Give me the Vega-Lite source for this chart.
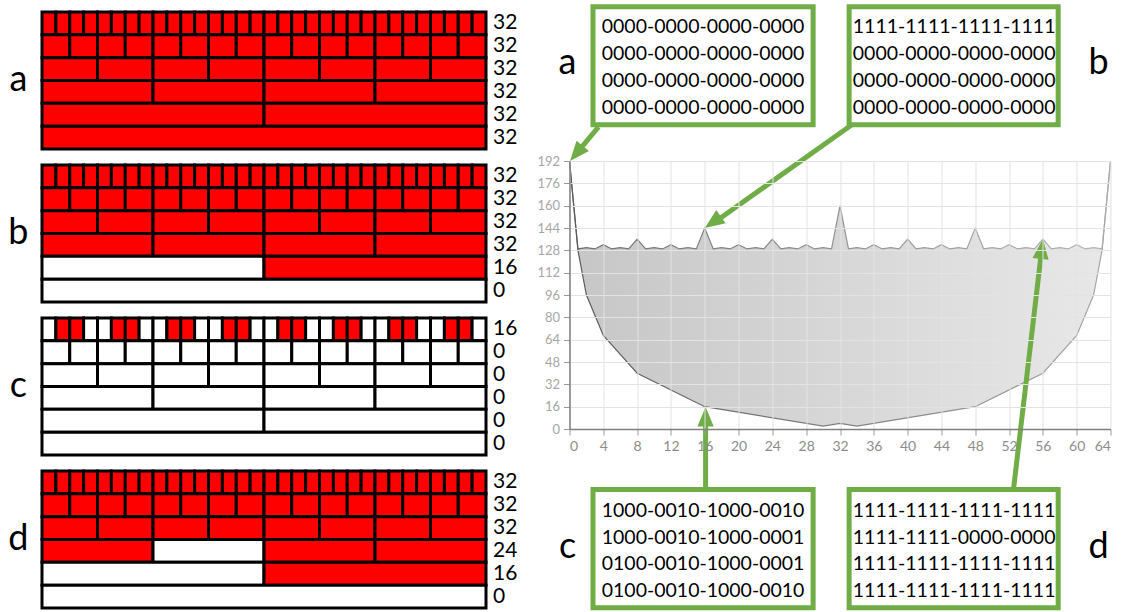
{
"$schema":"https://vega.github.io/schema/vega-lite/v6.json",
"background":"white",
"padding":{"left":8,"top":4,"right":0,"bottom":0},
"config":{"font":"Lato","view":{"stroke":null}},
"datasets":{
"cells":[
{"p":"a","r":0,"s":0,"e":1,"f":"R"},{"p":"a","r":0,"s":1,"e":2,"f":"R"},{"p":"a","r":0,"s":2,"e":3,"f":"R"},{"p":"a","r":0,"s":3,"e":4,"f":"R"},{"p":"a","r":0,"s":4,"e":5,"f":"R"},{"p":"a","r":0,"s":5,"e":6,"f":"R"},{"p":"a","r":0,"s":6,"e":7,"f":"R"},{"p":"a","r":0,"s":7,"e":8,"f":"R"},{"p":"a","r":0,"s":8,"e":9,"f":"R"},{"p":"a","r":0,"s":9,"e":10,"f":"R"},{"p":"a","r":0,"s":10,"e":11,"f":"R"},{"p":"a","r":0,"s":11,"e":12,"f":"R"},{"p":"a","r":0,"s":12,"e":13,"f":"R"},{"p":"a","r":0,"s":13,"e":14,"f":"R"},{"p":"a","r":0,"s":14,"e":15,"f":"R"},{"p":"a","r":0,"s":15,"e":16,"f":"R"},{"p":"a","r":0,"s":16,"e":17,"f":"R"},{"p":"a","r":0,"s":17,"e":18,"f":"R"},{"p":"a","r":0,"s":18,"e":19,"f":"R"},{"p":"a","r":0,"s":19,"e":20,"f":"R"},{"p":"a","r":0,"s":20,"e":21,"f":"R"},{"p":"a","r":0,"s":21,"e":22,"f":"R"},{"p":"a","r":0,"s":22,"e":23,"f":"R"},{"p":"a","r":0,"s":23,"e":24,"f":"R"},{"p":"a","r":0,"s":24,"e":25,"f":"R"},{"p":"a","r":0,"s":25,"e":26,"f":"R"},{"p":"a","r":0,"s":26,"e":27,"f":"R"},{"p":"a","r":0,"s":27,"e":28,"f":"R"},{"p":"a","r":0,"s":28,"e":29,"f":"R"},{"p":"a","r":0,"s":29,"e":30,"f":"R"},{"p":"a","r":0,"s":30,"e":31,"f":"R"},{"p":"a","r":0,"s":31,"e":32,"f":"R"},
{"p":"a","r":1,"s":0,"e":2,"f":"R"},{"p":"a","r":1,"s":2,"e":4,"f":"R"},{"p":"a","r":1,"s":4,"e":6,"f":"R"},{"p":"a","r":1,"s":6,"e":8,"f":"R"},{"p":"a","r":1,"s":8,"e":10,"f":"R"},{"p":"a","r":1,"s":10,"e":12,"f":"R"},{"p":"a","r":1,"s":12,"e":14,"f":"R"},{"p":"a","r":1,"s":14,"e":16,"f":"R"},{"p":"a","r":1,"s":16,"e":18,"f":"R"},{"p":"a","r":1,"s":18,"e":20,"f":"R"},{"p":"a","r":1,"s":20,"e":22,"f":"R"},{"p":"a","r":1,"s":22,"e":24,"f":"R"},{"p":"a","r":1,"s":24,"e":26,"f":"R"},{"p":"a","r":1,"s":26,"e":28,"f":"R"},{"p":"a","r":1,"s":28,"e":30,"f":"R"},{"p":"a","r":1,"s":30,"e":32,"f":"R"},
{"p":"a","r":2,"s":0,"e":4,"f":"R"},{"p":"a","r":2,"s":4,"e":8,"f":"R"},{"p":"a","r":2,"s":8,"e":12,"f":"R"},{"p":"a","r":2,"s":12,"e":16,"f":"R"},{"p":"a","r":2,"s":16,"e":20,"f":"R"},{"p":"a","r":2,"s":20,"e":24,"f":"R"},{"p":"a","r":2,"s":24,"e":28,"f":"R"},{"p":"a","r":2,"s":28,"e":32,"f":"R"},
{"p":"a","r":3,"s":0,"e":8,"f":"R"},{"p":"a","r":3,"s":8,"e":16,"f":"R"},{"p":"a","r":3,"s":16,"e":24,"f":"R"},{"p":"a","r":3,"s":24,"e":32,"f":"R"},
{"p":"a","r":4,"s":0,"e":16,"f":"R"},{"p":"a","r":4,"s":16,"e":32,"f":"R"},
{"p":"a","r":5,"s":0,"e":32,"f":"R"},
{"p":"b","r":0,"s":0,"e":1,"f":"R"},{"p":"b","r":0,"s":1,"e":2,"f":"R"},{"p":"b","r":0,"s":2,"e":3,"f":"R"},{"p":"b","r":0,"s":3,"e":4,"f":"R"},{"p":"b","r":0,"s":4,"e":5,"f":"R"},{"p":"b","r":0,"s":5,"e":6,"f":"R"},{"p":"b","r":0,"s":6,"e":7,"f":"R"},{"p":"b","r":0,"s":7,"e":8,"f":"R"},{"p":"b","r":0,"s":8,"e":9,"f":"R"},{"p":"b","r":0,"s":9,"e":10,"f":"R"},{"p":"b","r":0,"s":10,"e":11,"f":"R"},{"p":"b","r":0,"s":11,"e":12,"f":"R"},{"p":"b","r":0,"s":12,"e":13,"f":"R"},{"p":"b","r":0,"s":13,"e":14,"f":"R"},{"p":"b","r":0,"s":14,"e":15,"f":"R"},{"p":"b","r":0,"s":15,"e":16,"f":"R"},{"p":"b","r":0,"s":16,"e":17,"f":"R"},{"p":"b","r":0,"s":17,"e":18,"f":"R"},{"p":"b","r":0,"s":18,"e":19,"f":"R"},{"p":"b","r":0,"s":19,"e":20,"f":"R"},{"p":"b","r":0,"s":20,"e":21,"f":"R"},{"p":"b","r":0,"s":21,"e":22,"f":"R"},{"p":"b","r":0,"s":22,"e":23,"f":"R"},{"p":"b","r":0,"s":23,"e":24,"f":"R"},{"p":"b","r":0,"s":24,"e":25,"f":"R"},{"p":"b","r":0,"s":25,"e":26,"f":"R"},{"p":"b","r":0,"s":26,"e":27,"f":"R"},{"p":"b","r":0,"s":27,"e":28,"f":"R"},{"p":"b","r":0,"s":28,"e":29,"f":"R"},{"p":"b","r":0,"s":29,"e":30,"f":"R"},{"p":"b","r":0,"s":30,"e":31,"f":"R"},{"p":"b","r":0,"s":31,"e":32,"f":"R"},
{"p":"b","r":1,"s":0,"e":2,"f":"R"},{"p":"b","r":1,"s":2,"e":4,"f":"R"},{"p":"b","r":1,"s":4,"e":6,"f":"R"},{"p":"b","r":1,"s":6,"e":8,"f":"R"},{"p":"b","r":1,"s":8,"e":10,"f":"R"},{"p":"b","r":1,"s":10,"e":12,"f":"R"},{"p":"b","r":1,"s":12,"e":14,"f":"R"},{"p":"b","r":1,"s":14,"e":16,"f":"R"},{"p":"b","r":1,"s":16,"e":18,"f":"R"},{"p":"b","r":1,"s":18,"e":20,"f":"R"},{"p":"b","r":1,"s":20,"e":22,"f":"R"},{"p":"b","r":1,"s":22,"e":24,"f":"R"},{"p":"b","r":1,"s":24,"e":26,"f":"R"},{"p":"b","r":1,"s":26,"e":28,"f":"R"},{"p":"b","r":1,"s":28,"e":30,"f":"R"},{"p":"b","r":1,"s":30,"e":32,"f":"R"},
{"p":"b","r":2,"s":0,"e":4,"f":"R"},{"p":"b","r":2,"s":4,"e":8,"f":"R"},{"p":"b","r":2,"s":8,"e":12,"f":"R"},{"p":"b","r":2,"s":12,"e":16,"f":"R"},{"p":"b","r":2,"s":16,"e":20,"f":"R"},{"p":"b","r":2,"s":20,"e":24,"f":"R"},{"p":"b","r":2,"s":24,"e":28,"f":"R"},{"p":"b","r":2,"s":28,"e":32,"f":"R"},
{"p":"b","r":3,"s":0,"e":8,"f":"R"},{"p":"b","r":3,"s":8,"e":16,"f":"R"},{"p":"b","r":3,"s":16,"e":24,"f":"R"},{"p":"b","r":3,"s":24,"e":32,"f":"R"},
{"p":"b","r":4,"s":0,"e":16,"f":"W"},{"p":"b","r":4,"s":16,"e":32,"f":"R"},
{"p":"b","r":5,"s":0,"e":32,"f":"W"},
{"p":"c","r":0,"s":0,"e":1,"f":"W"},{"p":"c","r":0,"s":1,"e":2,"f":"R"},{"p":"c","r":0,"s":2,"e":3,"f":"R"},{"p":"c","r":0,"s":3,"e":4,"f":"W"},{"p":"c","r":0,"s":4,"e":5,"f":"W"},{"p":"c","r":0,"s":5,"e":6,"f":"R"},{"p":"c","r":0,"s":6,"e":7,"f":"R"},{"p":"c","r":0,"s":7,"e":8,"f":"W"},{"p":"c","r":0,"s":8,"e":9,"f":"W"},{"p":"c","r":0,"s":9,"e":10,"f":"R"},{"p":"c","r":0,"s":10,"e":11,"f":"R"},{"p":"c","r":0,"s":11,"e":12,"f":"W"},{"p":"c","r":0,"s":12,"e":13,"f":"W"},{"p":"c","r":0,"s":13,"e":14,"f":"R"},{"p":"c","r":0,"s":14,"e":15,"f":"R"},{"p":"c","r":0,"s":15,"e":16,"f":"W"},{"p":"c","r":0,"s":16,"e":17,"f":"W"},{"p":"c","r":0,"s":17,"e":18,"f":"R"},{"p":"c","r":0,"s":18,"e":19,"f":"R"},{"p":"c","r":0,"s":19,"e":20,"f":"W"},{"p":"c","r":0,"s":20,"e":21,"f":"W"},{"p":"c","r":0,"s":21,"e":22,"f":"R"},{"p":"c","r":0,"s":22,"e":23,"f":"R"},{"p":"c","r":0,"s":23,"e":24,"f":"W"},{"p":"c","r":0,"s":24,"e":25,"f":"W"},{"p":"c","r":0,"s":25,"e":26,"f":"R"},{"p":"c","r":0,"s":26,"e":27,"f":"R"},{"p":"c","r":0,"s":27,"e":28,"f":"W"},{"p":"c","r":0,"s":28,"e":29,"f":"W"},{"p":"c","r":0,"s":29,"e":30,"f":"R"},{"p":"c","r":0,"s":30,"e":31,"f":"R"},{"p":"c","r":0,"s":31,"e":32,"f":"W"},
{"p":"c","r":1,"s":0,"e":2,"f":"W"},{"p":"c","r":1,"s":2,"e":4,"f":"W"},{"p":"c","r":1,"s":4,"e":6,"f":"W"},{"p":"c","r":1,"s":6,"e":8,"f":"W"},{"p":"c","r":1,"s":8,"e":10,"f":"W"},{"p":"c","r":1,"s":10,"e":12,"f":"W"},{"p":"c","r":1,"s":12,"e":14,"f":"W"},{"p":"c","r":1,"s":14,"e":16,"f":"W"},{"p":"c","r":1,"s":16,"e":18,"f":"W"},{"p":"c","r":1,"s":18,"e":20,"f":"W"},{"p":"c","r":1,"s":20,"e":22,"f":"W"},{"p":"c","r":1,"s":22,"e":24,"f":"W"},{"p":"c","r":1,"s":24,"e":26,"f":"W"},{"p":"c","r":1,"s":26,"e":28,"f":"W"},{"p":"c","r":1,"s":28,"e":30,"f":"W"},{"p":"c","r":1,"s":30,"e":32,"f":"W"},
{"p":"c","r":2,"s":0,"e":4,"f":"W"},{"p":"c","r":2,"s":4,"e":8,"f":"W"},{"p":"c","r":2,"s":8,"e":12,"f":"W"},{"p":"c","r":2,"s":12,"e":16,"f":"W"},{"p":"c","r":2,"s":16,"e":20,"f":"W"},{"p":"c","r":2,"s":20,"e":24,"f":"W"},{"p":"c","r":2,"s":24,"e":28,"f":"W"},{"p":"c","r":2,"s":28,"e":32,"f":"W"},
{"p":"c","r":3,"s":0,"e":8,"f":"W"},{"p":"c","r":3,"s":8,"e":16,"f":"W"},{"p":"c","r":3,"s":16,"e":24,"f":"W"},{"p":"c","r":3,"s":24,"e":32,"f":"W"},
{"p":"c","r":4,"s":0,"e":16,"f":"W"},{"p":"c","r":4,"s":16,"e":32,"f":"W"},
{"p":"c","r":5,"s":0,"e":32,"f":"W"},
{"p":"d","r":0,"s":0,"e":1,"f":"R"},{"p":"d","r":0,"s":1,"e":2,"f":"R"},{"p":"d","r":0,"s":2,"e":3,"f":"R"},{"p":"d","r":0,"s":3,"e":4,"f":"R"},{"p":"d","r":0,"s":4,"e":5,"f":"R"},{"p":"d","r":0,"s":5,"e":6,"f":"R"},{"p":"d","r":0,"s":6,"e":7,"f":"R"},{"p":"d","r":0,"s":7,"e":8,"f":"R"},{"p":"d","r":0,"s":8,"e":9,"f":"R"},{"p":"d","r":0,"s":9,"e":10,"f":"R"},{"p":"d","r":0,"s":10,"e":11,"f":"R"},{"p":"d","r":0,"s":11,"e":12,"f":"R"},{"p":"d","r":0,"s":12,"e":13,"f":"R"},{"p":"d","r":0,"s":13,"e":14,"f":"R"},{"p":"d","r":0,"s":14,"e":15,"f":"R"},{"p":"d","r":0,"s":15,"e":16,"f":"R"},{"p":"d","r":0,"s":16,"e":17,"f":"R"},{"p":"d","r":0,"s":17,"e":18,"f":"R"},{"p":"d","r":0,"s":18,"e":19,"f":"R"},{"p":"d","r":0,"s":19,"e":20,"f":"R"},{"p":"d","r":0,"s":20,"e":21,"f":"R"},{"p":"d","r":0,"s":21,"e":22,"f":"R"},{"p":"d","r":0,"s":22,"e":23,"f":"R"},{"p":"d","r":0,"s":23,"e":24,"f":"R"},{"p":"d","r":0,"s":24,"e":25,"f":"R"},{"p":"d","r":0,"s":25,"e":26,"f":"R"},{"p":"d","r":0,"s":26,"e":27,"f":"R"},{"p":"d","r":0,"s":27,"e":28,"f":"R"},{"p":"d","r":0,"s":28,"e":29,"f":"R"},{"p":"d","r":0,"s":29,"e":30,"f":"R"},{"p":"d","r":0,"s":30,"e":31,"f":"R"},{"p":"d","r":0,"s":31,"e":32,"f":"R"},
{"p":"d","r":1,"s":0,"e":2,"f":"R"},{"p":"d","r":1,"s":2,"e":4,"f":"R"},{"p":"d","r":1,"s":4,"e":6,"f":"R"},{"p":"d","r":1,"s":6,"e":8,"f":"R"},{"p":"d","r":1,"s":8,"e":10,"f":"R"},{"p":"d","r":1,"s":10,"e":12,"f":"R"},{"p":"d","r":1,"s":12,"e":14,"f":"R"},{"p":"d","r":1,"s":14,"e":16,"f":"R"},{"p":"d","r":1,"s":16,"e":18,"f":"R"},{"p":"d","r":1,"s":18,"e":20,"f":"R"},{"p":"d","r":1,"s":20,"e":22,"f":"R"},{"p":"d","r":1,"s":22,"e":24,"f":"R"},{"p":"d","r":1,"s":24,"e":26,"f":"R"},{"p":"d","r":1,"s":26,"e":28,"f":"R"},{"p":"d","r":1,"s":28,"e":30,"f":"R"},{"p":"d","r":1,"s":30,"e":32,"f":"R"},
{"p":"d","r":2,"s":0,"e":4,"f":"R"},{"p":"d","r":2,"s":4,"e":8,"f":"R"},{"p":"d","r":2,"s":8,"e":12,"f":"R"},{"p":"d","r":2,"s":12,"e":16,"f":"R"},{"p":"d","r":2,"s":16,"e":20,"f":"R"},{"p":"d","r":2,"s":20,"e":24,"f":"R"},{"p":"d","r":2,"s":24,"e":28,"f":"R"},{"p":"d","r":2,"s":28,"e":32,"f":"R"},
{"p":"d","r":3,"s":0,"e":8,"f":"R"},{"p":"d","r":3,"s":8,"e":16,"f":"W"},{"p":"d","r":3,"s":16,"e":24,"f":"R"},{"p":"d","r":3,"s":24,"e":32,"f":"R"},
{"p":"d","r":4,"s":0,"e":16,"f":"W"},{"p":"d","r":4,"s":16,"e":32,"f":"R"},
{"p":"d","r":5,"s":0,"e":32,"f":"W"},
{"p":"a","r":0,"n":"32"},{"p":"a","r":1,"n":"32"},{"p":"a","r":2,"n":"32"},{"p":"a","r":3,"n":"32"},{"p":"a","r":4,"n":"32"},{"p":"a","r":5,"n":"32"},
{"p":"b","r":0,"n":"32"},{"p":"b","r":1,"n":"32"},{"p":"b","r":2,"n":"32"},{"p":"b","r":3,"n":"32"},{"p":"b","r":4,"n":"16"},{"p":"b","r":5,"n":"0"},
{"p":"c","r":0,"n":"16"},{"p":"c","r":1,"n":"0"},{"p":"c","r":2,"n":"0"},{"p":"c","r":3,"n":"0"},{"p":"c","r":4,"n":"0"},{"p":"c","r":5,"n":"0"},
{"p":"d","r":0,"n":"32"},{"p":"d","r":1,"n":"32"},{"p":"d","r":2,"n":"32"},{"p":"d","r":3,"n":"24"},{"p":"d","r":4,"n":"16"},{"p":"d","r":5,"n":"0"},
{"p":"a","r":2,"L":"a"},{"p":"b","r":2,"L":"b"},{"p":"c","r":2,"L":"c"},{"p":"d","r":2,"L":"d"}
],
"curve":[
{"x":0,"hi":192,"lo":192},{"x":1,"hi":129,"lo":128},{"x":2,"hi":130,"lo":96},{"x":3,"hi":129},{"x":4,"hi":132,"lo":67},{"x":5,"hi":129},{"x":6,"hi":130},{"x":7,"hi":129},{"x":8,"hi":136,"lo":40},{"x":9,"hi":129},{"x":10,"hi":130},{"x":11,"hi":129},{"x":12,"hi":132},{"x":13,"hi":129},{"x":14,"hi":130},{"x":15,"hi":129},
{"x":16,"hi":144,"lo":16},{"x":17,"hi":129},{"x":18,"hi":130},{"x":19,"hi":129},{"x":20,"hi":132},{"x":21,"hi":129},{"x":22,"hi":130},{"x":23,"hi":129},{"x":24,"hi":136},{"x":25,"hi":129},{"x":26,"hi":130},{"x":27,"hi":129},{"x":28,"hi":132},{"x":29,"hi":129},{"x":30,"hi":130,"lo":2},{"x":31,"hi":129},
{"x":32,"hi":160,"lo":4},{"x":33,"hi":129},{"x":34,"hi":130,"lo":2},{"x":35,"hi":129},{"x":36,"hi":132},{"x":37,"hi":129},{"x":38,"hi":130},{"x":39,"hi":129},{"x":40,"hi":136},{"x":41,"hi":129},{"x":42,"hi":130},{"x":43,"hi":129},{"x":44,"hi":132},{"x":45,"hi":129},{"x":46,"hi":130},{"x":47,"hi":129},
{"x":48,"hi":144,"lo":16},{"x":49,"hi":129},{"x":50,"hi":130},{"x":51,"hi":129},{"x":52,"hi":132},{"x":53,"hi":129},{"x":54,"hi":130},{"x":55,"hi":129},{"x":56,"hi":136,"lo":40},{"x":57,"hi":129},{"x":58,"hi":130},{"x":59,"hi":129},{"x":60,"hi":132,"lo":67},{"x":61,"hi":129},{"x":62,"hi":130,"lo":96},{"x":63,"hi":129,"lo":128},
{"x":64,"hi":192,"lo":192}
]
},
"spacing":18.5,
"hconcat":[
{
"data":{"name":"cells"},
"facet":{"row":{"field":"p","type":"nominal","header":{"title":null,"labels":false}}},
"spacing":{"row":12},
"spec":{
"width":444,"height":137,
"encoding":{
"x":{"type":"quantitative","scale":{"domain":[0,32],"nice":false,"zero":false},"axis":null},
"y":{"field":"r","type":"ordinal","scale":{"paddingInner":0,"paddingOuter":0},"axis":null}
},
"layer":[
{"transform":[{"filter":"isValid(datum.s)"}],
"mark":{"type":"rect","stroke":"black","strokeWidth":3},
"encoding":{
"x":{"field":"s","type":"quantitative"},
"x2":{"field":"e"},
"color":{"field":"f","type":"nominal","scale":{"domain":["W","R"],"range":["#ffffff","#ff0000"]},"legend":null}}},
{"transform":[{"filter":"isValid(datum.n)"}],
"mark":{"type":"text","align":"left","baseline":"middle","dx":7,"fontSize":21,"color":"black"},
"encoding":{"x":{"datum":32},"text":{"field":"n"}}},
{"transform":[{"filter":"isValid(datum.L)"}],
"mark":{"type":"text","align":"center","baseline":"middle","dy":11.4,"fontSize":36,"color":"black"},
"encoding":{"x":{"datum":-1.7},"text":{"field":"L"}}}
]}
},
{
"vconcat":[
{
"width":541,"height":148.5,
"encoding":{
"x":{"type":"quantitative","scale":{"domain":[0,64],"nice":false,"zero":false},"axis":null},
"y":{"type":"quantitative","scale":{"domain":[192,298.39],"nice":false,"zero":false},"axis":null}
},
"layer":[
{"data":{"values":[{"L":"a","t":["0000-0000-0000-0000","0000-0000-0000-0000","0000-0000-0000-0000","0000-0000-0000-0000"]}]},
"layer":[
{"mark":{"type":"rect","fill":"white","stroke":"#70ad47","strokeWidth":5},"encoding":{"x":{"datum":2.78},"x2":{"datum":28.82},"y":{"datum":302.2},"y2":{"datum":217.6}}},
{"mark":{"type":"text","align":"center","baseline":"middle","fontSize":19.5,"lineHeight":26.7,"color":"black"},"encoding":{"x":{"datum":15.8},"y":{"datum":287.3},"text":{"field":"t"}}},
{"mark":{"type":"text","align":"center","baseline":"middle","fontSize":36,"color":"black"},"encoding":{"x":{"datum":-0.24},"y":{"datum":261.6},"text":{"field":"L"}}}
]},
{"data":{"values":[{"L":"b","t":["1111-1111-1111-1111","0000-0000-0000-0000","0000-0000-0000-0000","0000-0000-0000-0000"]}]},
"layer":[
{"mark":{"type":"rect","fill":"white","stroke":"#70ad47","strokeWidth":5},"encoding":{"x":{"datum":33.08},"x2":{"datum":57.81},"y":{"datum":302.2},"y2":{"datum":217.6}}},
{"mark":{"type":"text","align":"center","baseline":"middle","fontSize":19.5,"lineHeight":26.7,"color":"black"},"encoding":{"x":{"datum":45.5},"y":{"datum":287.3},"text":{"field":"t"}}},
{"mark":{"type":"text","align":"center","baseline":"middle","fontSize":36,"color":"black"},"encoding":{"x":{"datum":62.58},"y":{"datum":261.6},"text":{"field":"L"}}}
]}
]
},
{
"width":541,"height":268,
"encoding":{
"x":{"type":"quantitative","scale":{"domain":[0,64],"nice":false,"zero":false},"axis":{"values":[0,4,8,12,16,20,24,28,32,36,40,44,48,52,56,60,64],"labelOverlap":false,"title":null,"grid":true,"gridColor":"#e3e3e3","domainColor":"#808080","domainWidth":1.5,"tickColor":"#9a9a9a","tickSize":6,"labelColor":"#8c8c8c","labelFontSize":14,"labelPadding":4,"zindex":1}},
"y":{"type":"quantitative","scale":{"domain":[0,192],"nice":false,"zero":false},"axis":{"values":[0,16,32,48,64,80,96,112,128,144,160,176,192],"labelOverlap":false,"title":null,"grid":true,"gridColor":"#e3e3e3","domainColor":"#808080","domainWidth":1.5,"tickColor":"#9a9a9a","tickSize":6,"labelColor":"#a6a6a6","labelFontSize":13,"labelPadding":4,"zindex":1}}
},
"layer":[
{"data":{"name":"curve"},
"mark":{"type":"area","opacity":1,"color":{"gradient":"linear","x1":0,"y1":0,"x2":1,"y2":0,"stops":[{"offset":0,"color":"#c6c6c6"},{"offset":1,"color":"#e8e8e8"}]}},
"encoding":{"x":{"field":"x","type":"quantitative"},"y":{"field":"hi","type":"quantitative"}}},
{"data":{"name":"curve"},"transform":[{"filter":"isValid(datum.lo)"}],
"mark":{"type":"area","color":"white","opacity":1},
"encoding":{"x":{"field":"x","type":"quantitative"},"y":{"field":"lo","type":"quantitative"}}},
{"data":{"name":"curve"},
"mark":{"type":"line","strokeWidth":1.2,"stroke":{"gradient":"linear","x1":0,"y1":0,"x2":1,"y2":0,"stops":[{"offset":0,"color":"#6e6e6e"},{"offset":1,"color":"#b4b4b4"}]}},
"encoding":{"x":{"field":"x","type":"quantitative"},"y":{"field":"hi","type":"quantitative"}}},
{"data":{"name":"curve"},"transform":[{"filter":"isValid(datum.lo)"}],
"mark":{"type":"line","strokeWidth":1.2,"stroke":{"gradient":"linear","x1":0,"y1":0,"x2":1,"y2":0,"stops":[{"offset":0,"color":"#5a5a5a"},{"offset":1,"color":"#a8a8a8"}]}},
"encoding":{"x":{"field":"x","type":"quantitative"},"y":{"field":"lo","type":"quantitative"}}},
{"data":{"values":[{"k":"a"}]},
"layer":[
{"mark":{"type":"rule","stroke":"#70ad47","strokeWidth":5},"encoding":{"x":{"datum":3.43},"y":{"datum":216.4},"x2":{"datum":0.97},"y2":{"datum":198.6}}},
{"mark":{"type":"point","shape":"M0,0L-0.9,2.2L0.9,2.2Z","filled":true,"fill":"#70ad47","strokeWidth":0,"size":324,"angle":220,"opacity":1},"encoding":{"x":{"datum":0.06},"y":{"datum":192}}},
{"mark":{"type":"rule","stroke":"#70ad47","strokeWidth":5},"encoding":{"x":{"datum":33.36},"y":{"datum":217.8},"x2":{"datum":17.16},"y2":{"datum":148.1}}},
{"mark":{"type":"point","shape":"M0,0L-0.9,2.2L0.9,2.2Z","filled":true,"fill":"#70ad47","strokeWidth":0,"size":324,"angle":235,"opacity":1},"encoding":{"x":{"datum":16},"y":{"datum":144}}},
{"mark":{"type":"rule","stroke":"#70ad47","strokeWidth":5},"encoding":{"x":{"datum":16.1},"y":{"datum":-43},"x2":{"datum":16.1},"y2":{"datum":7.4}}},
{"mark":{"type":"point","shape":"M0,0L-0.9,2.2L0.9,2.2Z","filled":true,"fill":"#70ad47","strokeWidth":0,"size":324,"angle":0,"opacity":1},"encoding":{"x":{"datum":16.1},"y":{"datum":16}}},
{"mark":{"type":"rule","stroke":"#70ad47","strokeWidth":5},"encoding":{"x":{"datum":52.53},"y":{"datum":-43},"x2":{"datum":55.84},"y2":{"datum":127.5}}},
{"mark":{"type":"point","shape":"M0,0L-0.9,2.2L0.9,2.2Z","filled":true,"fill":"#70ad47","strokeWidth":0,"size":324,"angle":6.7,"opacity":1},"encoding":{"x":{"datum":56},"y":{"datum":136}}}
]}
]
},
{
"width":541,"height":178,
"encoding":{
"x":{"type":"quantitative","scale":{"domain":[0,64],"nice":false,"zero":false},"axis":null},
"y":{"type":"quantitative","scale":{"domain":[-127.53,0],"nice":false,"zero":false},"axis":null}
},
"layer":[
{"data":{"values":[{"L":"c","t":["1000-0010-1000-0010","1000-0010-1000-0001","0100-0010-1000-0001","0100-0010-1000-0010"]}]},
"layer":[
{"mark":{"type":"rect","fill":"white","stroke":"#70ad47","strokeWidth":5},"encoding":{"x":{"datum":2.78},"x2":{"datum":28.82},"y":{"datum":-43.4},"y2":{"datum":-128}}},
{"mark":{"type":"text","align":"center","baseline":"middle","fontSize":19.5,"lineHeight":26.7,"color":"black"},"encoding":{"x":{"datum":15.8},"y":{"datum":-58.7},"text":{"field":"t"}}},
{"mark":{"type":"text","align":"center","baseline":"middle","fontSize":36,"color":"black"},"encoding":{"x":{"datum":-0.24},"y":{"datum":-84.5},"text":{"field":"L"}}}
]},
{"data":{"values":[{"L":"d","t":["1111-1111-1111-1111","1111-1111-0000-0000","1111-1111-1111-1111","1111-1111-1111-1111"]}]},
"layer":[
{"mark":{"type":"rect","fill":"white","stroke":"#70ad47","strokeWidth":5},"encoding":{"x":{"datum":33.08},"x2":{"datum":57.81},"y":{"datum":-43.4},"y2":{"datum":-128}}},
{"mark":{"type":"text","align":"center","baseline":"middle","fontSize":19.5,"lineHeight":26.7,"color":"black"},"encoding":{"x":{"datum":45.5},"y":{"datum":-58.7},"text":{"field":"t"}}},
{"mark":{"type":"text","align":"center","baseline":"middle","fontSize":36,"color":"black"},"encoding":{"x":{"datum":62.58},"y":{"datum":-84.5},"text":{"field":"L"}}}
]}
]
}
],
"spacing":0,
"bounds":"flush"
}
]
}
